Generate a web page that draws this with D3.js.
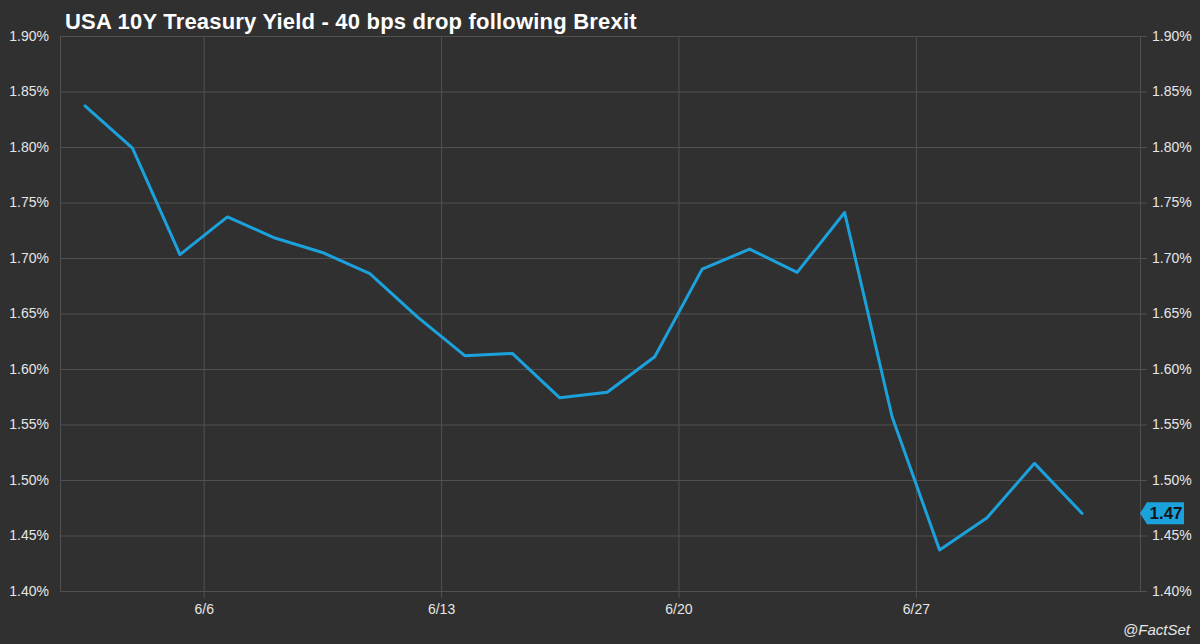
<!DOCTYPE html>
<html>
<head>
<meta charset="utf-8">
<script src="https://cdn.jsdelivr.net/npm/d3@7"></script>
<style>
  html, body { margin: 0; padding: 0; background: #303030; }
  svg { display: block; font-family: Arial, "Liberation Sans", sans-serif; }
</style>
</head>
<body>
<div id="chart"></div>
<script>
// trading days, June 2016
var dates = ["6/1","6/2","6/3","6/6","6/7","6/8","6/9","6/10","6/13","6/14","6/15",
             "6/16","6/17","6/20","6/21","6/22","6/23","6/24","6/27","6/28","6/29","6/30"];
var yields = [1.837, 1.799, 1.703, 1.737, 1.718, 1.705, 1.686, 1.647, 1.612, 1.614, 1.574,
              1.579, 1.611, 1.690, 1.708, 1.687, 1.741, 1.557, 1.437, 1.466, 1.515, 1.470];
var weekLabels = ["6/6", "6/13", "6/20", "6/27"];
var yTicks = [1.40, 1.45, 1.50, 1.55, 1.60, 1.65, 1.70, 1.75, 1.80, 1.85, 1.90];

var width = 1200, height = 644;
var plotLeft = 60, plotRight = 1140, plotTop = 36, plotBottom = 591;

var svg = d3.select("#chart").append("svg")
            .attr("width", width)
            .attr("height", height);

svg.append("rect")
   .attr("width", width)
   .attr("height", height)
   .attr("fill", "#303030");

var x = d3.scalePoint()
          .domain(dates)
          .range([85, 1082]);

var y = d3.scaleLinear()
          .domain([1.40, 1.90])
          .range([plotBottom, plotTop]);

var gridColor = "#505050";
var textColor = "#e6e6e6";

// left axis + horizontal grid
var yLeft = svg.append("g")
               .attr("transform", "translate(" + plotLeft + ",0)")
               .call(d3.axisLeft(y)
                       .tickValues(yTicks)
                       .tickSize(-(plotRight - plotLeft))
                       .tickPadding(11)
                       .tickFormat(function(d){ return d.toFixed(2) + "%"; }));

// right axis
var yRight = svg.append("g")
                .attr("transform", "translate(" + plotRight + ",0)")
                .call(d3.axisRight(y)
                        .tickValues(yTicks)
                        .tickSize(7)
                        .tickPadding(5)
                        .tickFormat(function(d){ return d.toFixed(2) + "%"; }));

// x axis: week gridlines sit between Friday and Monday
var step = x.step();
var xWeek = function(d){ return x(d) - step / 2; };

var xAxis = svg.append("g")
               .attr("transform", "translate(0," + plotBottom + ")")
               .call(d3.axisBottom(d3.scaleIdentity())
                       .tickValues(weekLabels.map(xWeek))
                       .tickSize(7)
                       .tickPadding(0)
                       .tickFormat(function(d, i){ return weekLabels[i]; }));

xAxis.selectAll(".tick line").attr("y1", -(plotBottom - plotTop)).attr("y2", 7);

[yLeft, yRight, xAxis].forEach(function(g){
  g.select(".domain").remove();
  g.selectAll(".tick line").attr("stroke", gridColor).attr("stroke-width", 1);
  g.selectAll(".tick text")
   .attr("fill", textColor)
   .attr("font-size", "14px");
});

xAxis.selectAll(".tick text").attr("y", 23).attr("dy", "0");

// plot borders left and right
svg.append("line")
   .attr("x1", plotLeft + 0.5).attr("x2", plotLeft + 0.5)
   .attr("y1", plotTop).attr("y2", plotBottom)
   .attr("stroke", gridColor);
svg.append("line")
   .attr("x1", plotRight + 0.5).attr("x2", plotRight + 0.5)
   .attr("y1", plotTop).attr("y2", plotBottom)
   .attr("stroke", gridColor);

// yield line
var line = d3.line()
             .x(function(d, i){ return x(dates[i]); })
             .y(function(d){ return y(d); });

svg.append("path")
   .datum(yields)
   .attr("d", line)
   .attr("fill", "none")
   .attr("stroke", "#1ba2dd")
   .attr("stroke-width", 3)
   .attr("stroke-linejoin", "round")
   .attr("stroke-linecap", "round");

// last value tag on the right axis
var last = yields[yields.length - 1];
var ty = y(last);
var tag = svg.append("g").attr("transform", "translate(" + plotRight + "," + ty + ")");
tag.append("path")
   .attr("d", "M0,0 L7,-11 L44,-11 L44,11 L7,11 Z")
   .attr("fill", "#1ba2dd");
tag.append("text")
   .attr("x", 26)
   .attr("y", 6)
   .attr("text-anchor", "middle")
   .attr("font-size", "17px")
   .attr("font-weight", "bold")
   .attr("fill", "#151515")
   .text(last.toFixed(2));

// title
svg.append("text")
   .attr("x", 65)
   .attr("y", 29)
   .attr("font-size", "22px")
   .attr("font-weight", "bold")
   .attr("letter-spacing", "0.2px")
   .attr("fill", "#ffffff")
   .text("USA 10Y Treasury Yield - 40 bps drop following Brexit");

// source
svg.append("text")
   .attr("x", 1190)
   .attr("y", 635)
   .attr("text-anchor", "end")
   .attr("font-size", "15px")
   .attr("font-style", "italic")
   .attr("fill", textColor)
   .text("@FactSet");
</script>
</body>
</html>
